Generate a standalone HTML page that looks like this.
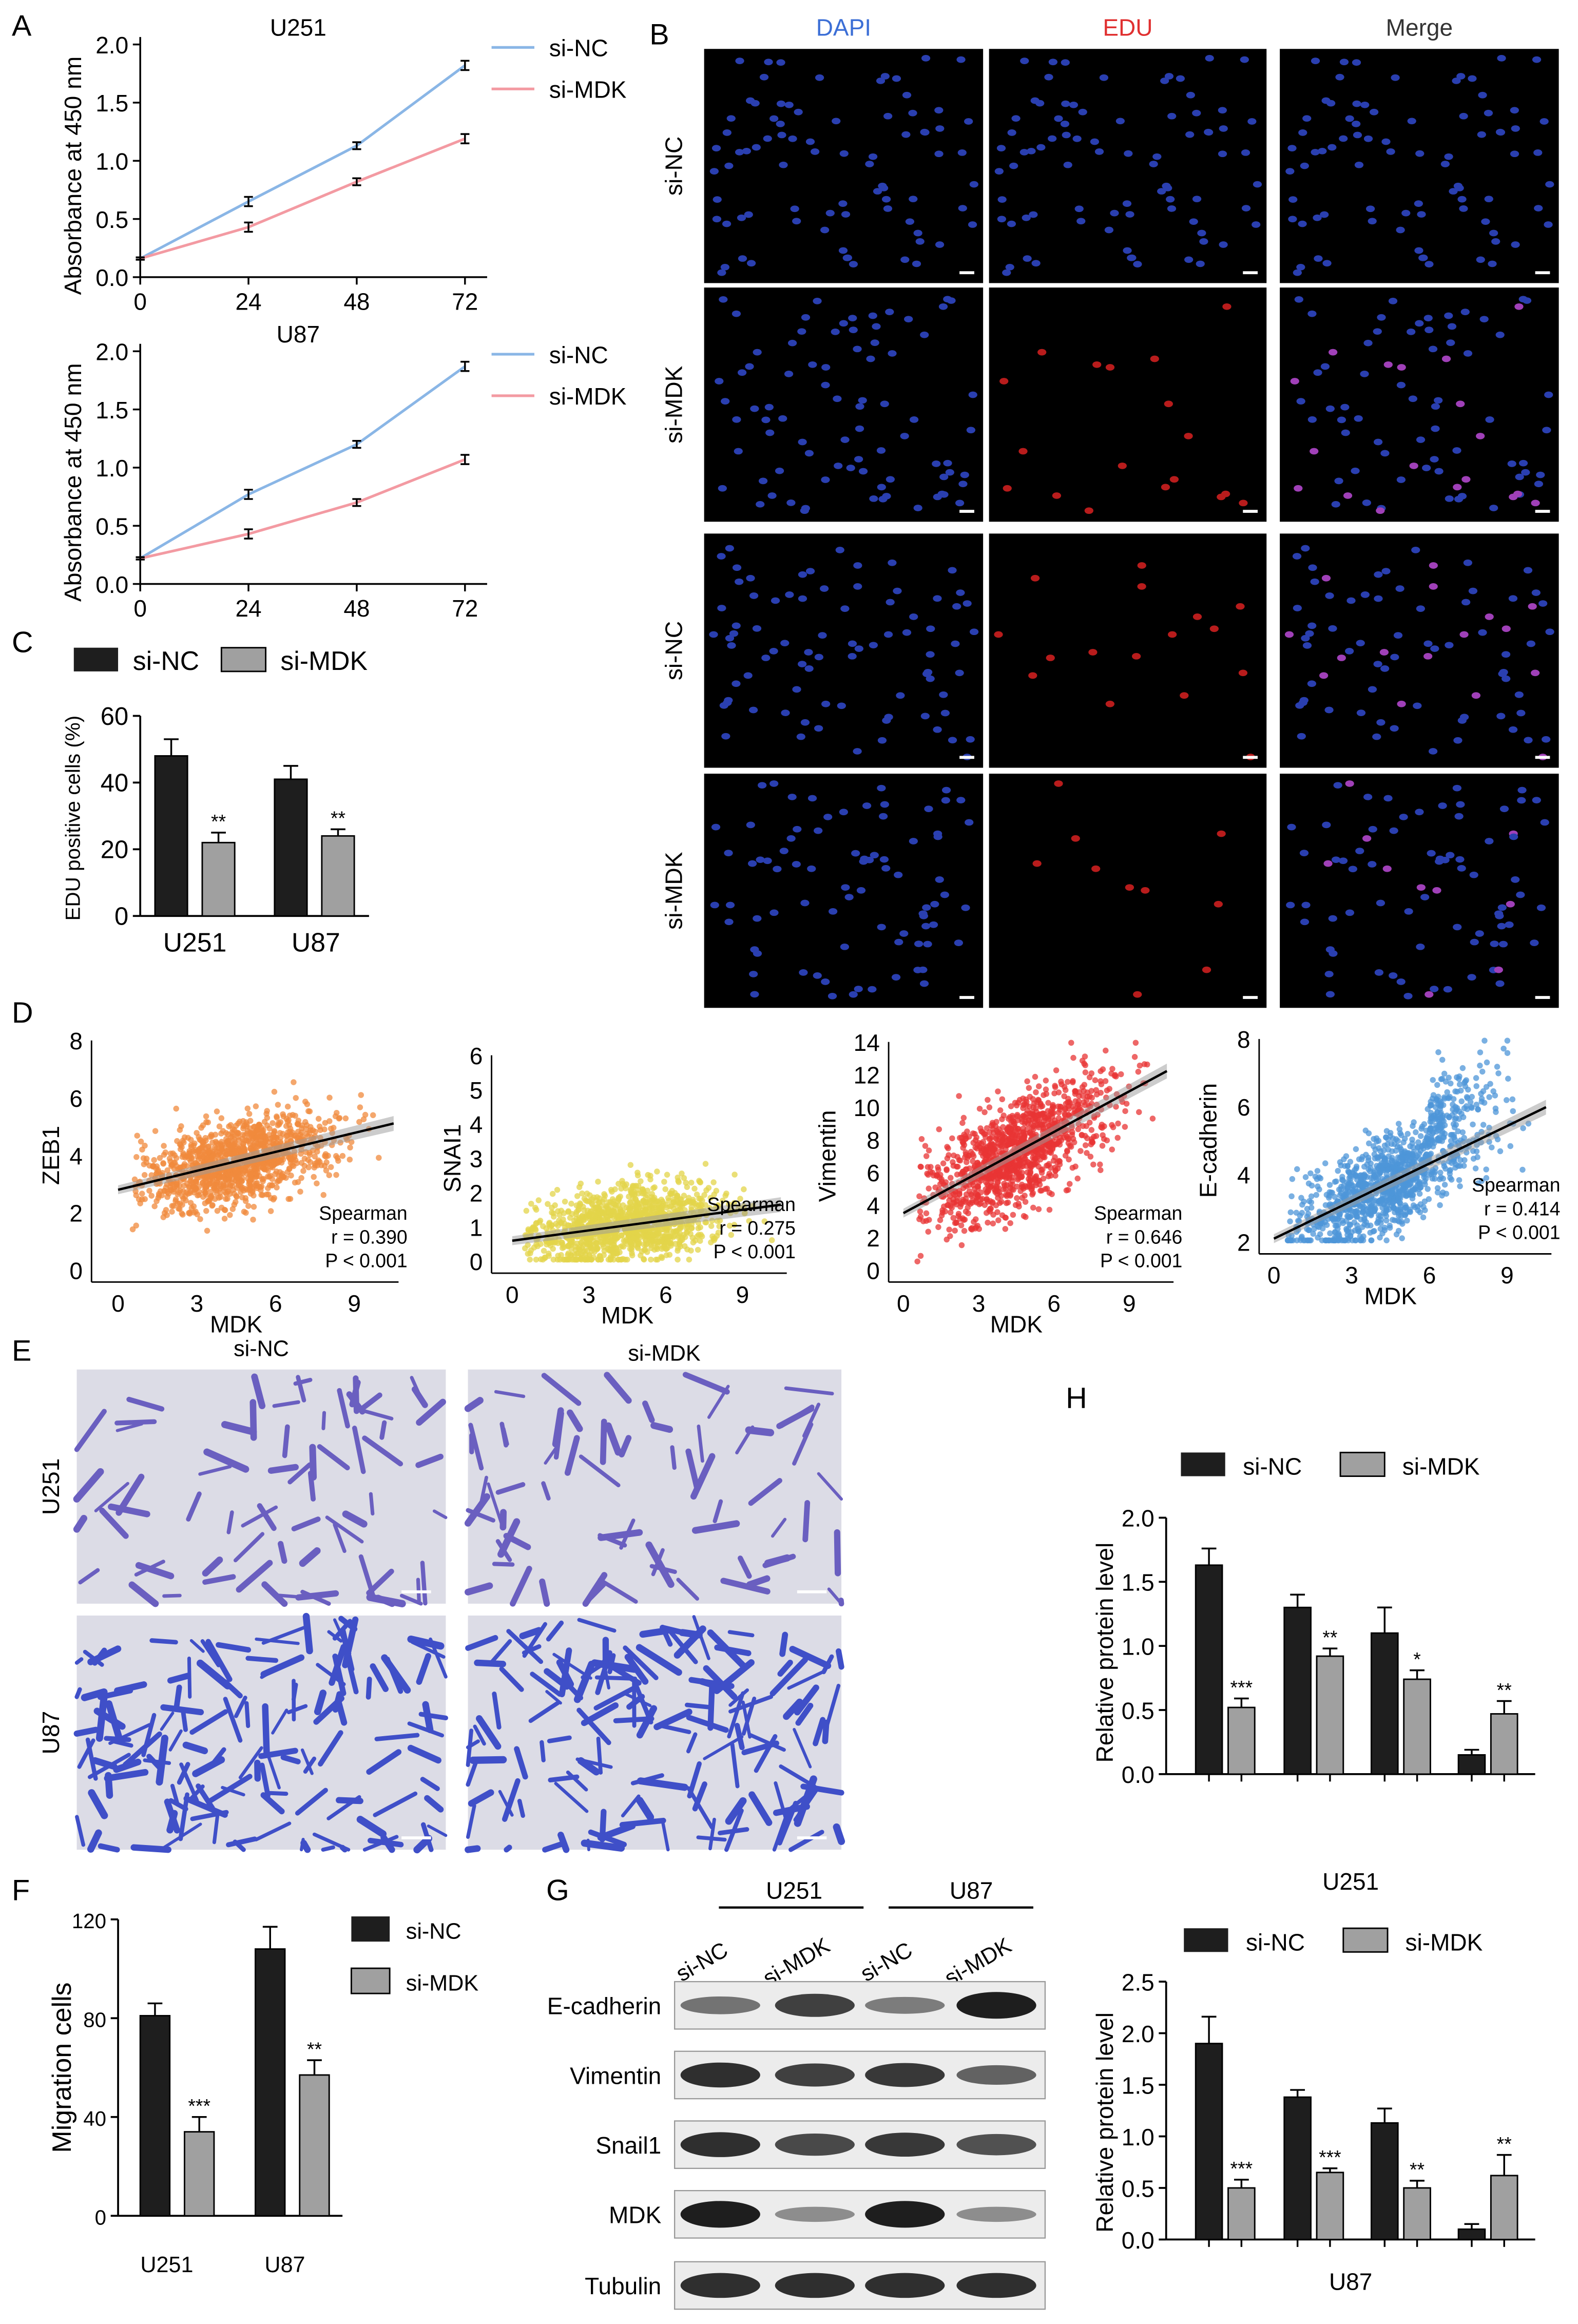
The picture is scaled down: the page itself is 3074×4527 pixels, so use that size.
<!DOCTYPE html>
<html><head><meta charset="utf-8">
<style>
html,body{margin:0;padding:0;background:#fff;}
svg{display:block;font-family:"Liberation Sans",Arial,sans-serif;}
</style></head>
<body>
<svg id="fig" width="3074" height="4527" viewBox="0 0 1069 1568" preserveAspectRatio="none" xmlns="http://www.w3.org/2000/svg">
<rect width="1069" height="1568" fill="#fff"/>
<g id="root"></g>
</svg>
<script>
// ---------- Data ----------
const timePoints=[0,24,48,72];
const u251NC=[0.16,0.65,1.13,1.82];
const u251MDK=[0.16,0.43,0.82,1.19];
const u87NC=[0.22,0.77,1.20,1.87];
const u87MDK=[0.22,0.43,0.70,1.07];
const cckErr=[0.01,0.04,0.03,0.04];
const eduCats=["U251","U87"];
const eduNC=[48,41];
const eduMDK=[22,24];
const eduErrNC=[5,4];
const eduErrMDK=[3,2];
const migCats=["U251","U87"];
const migNC=[81,108];
const migMDK=[34,57];
const migErrNC=[5,9];
const migErrMDK=[6,6];
const hTopNC=[1.63,1.30,1.10,0.15];
const hTopMDK=[0.52,0.92,0.74,0.47];
const hTopErrNC=[0.13,0.1,0.2,0.04];
const hTopErrMDK=[0.07,0.06,0.07,0.1];
const hTopStars=["***","**","*","**"];
const hBotNC=[1.90,1.38,1.13,0.10];
const hBotMDK=[0.50,0.65,0.50,0.62];
const hBotErrNC=[0.26,0.07,0.14,0.05];
const hBotErrMDK=[0.08,0.04,0.07,0.2];
const hBotStars=["***","***","**","**"];
const scatterGenes=["ZEB1","SNAI1","Vimentin","E-cadherin"];
const scatterR=["0.390","0.275","0.646","0.414"];
const fitStart=[2.8,0.6,3.5,2.1];
const fitEnd=[5.0,1.6,11.8,5.8];
const blotRows=["E-cadherin","Vimentin","Snail1","MDK","Tubulin"];
const blotIntensity=[[0.5,0.8,0.45,1.0],[0.9,0.8,0.85,0.6],[0.9,0.75,0.85,0.7],[1.0,0.35,1.0,0.35],[0.9,0.9,0.9,0.9]];

// ---------- helpers ----------
const NS="http://www.w3.org/2000/svg";
const root=document.getElementById('root');
function mk(tag,attrs,parent){const e=document.createElementNS(NS,tag);for(const k in attrs)e.setAttribute(k,attrs[k]);(parent||root).appendChild(e);return e;}
function txt(x,y,s,size,opts,parent){opts=opts||{};const e=mk('text',{x:x,y:y,'font-size':size,fill:opts.fill||'#000','text-anchor':opts.anchor||'start','font-weight':opts.bold?'bold':'normal'},parent);if(opts.rot)e.setAttribute('transform',`rotate(${opts.rot} ${x} ${y})`);e.textContent=s;return e;}
function line(x1,y1,x2,y2,stroke,w,parent){return mk('line',{x1,y1,x2,y2,stroke:stroke||'#000','stroke-width':w||1.2},parent);}
let seed=12345;function rnd(){seed=(seed*1103515245+12345)%2147483648;return seed/2147483648;}
function gauss(){let u=rnd()||1e-6,v=rnd();return Math.sqrt(-2*Math.log(u))*Math.cos(2*Math.PI*v);}

[["A",8,24],["B",440,30],["C",8,440],["D",8,690],["E",8,918],["F",8,1282],["G",370,1282],["H",722,950]].forEach(p=>{
 const t=txt(p[1],p[2],p[0],20);
 
});

// ---------- Panel A ----------
function lineChart(top,bottom,title,nc,mdk,name){
 const g=mk('g',{});
 
 const x0=95,x1=315;
 const xs=v=>x0+(v/72)*(x1-x0);
 const ys=v=>bottom-(v/2)*(bottom-top);
 line(x0,top-5,x0,bottom,'#000',1.2,g);line(x0,bottom,330,bottom,'#000',1.2,g);
 [0,0.5,1.0,1.5,2.0].forEach(v=>{line(x0-5,ys(v),x0,ys(v),'#000',1.2,g);txt(x0-8,ys(v)+6,v.toFixed(1),16,{anchor:'end'},g);});
 timePoints.forEach(v=>{line(xs(v),bottom,xs(v),bottom+5,'#000',1.2,g);txt(xs(v),bottom+22,String(v),16,{anchor:'middle'},g);});
 txt(55,(top+bottom)/2+10,'Absorbance at 450 nm',16,{anchor:'middle',rot:-90},g);
 txt(202,top-6,title,16,{anchor:'middle'},g);
 [[nc,'#8ab6e6'],[mdk,'#f39aa2']].forEach(s=>{
  const pts=s[0].map((v,i)=>xs(timePoints[i])+','+ys(v)).join(' ');
  mk('polyline',{points:pts,fill:'none',stroke:s[1],'stroke-width':1.8},g);
  s[0].forEach((v,i)=>{const x=xs(timePoints[i]),e=cckErr[i];line(x,ys(v-e),x,ys(v+e),'#000',1.2,g);line(x-3,ys(v-e),x+3,ys(v-e),'#000',1.2,g);line(x-3,ys(v+e),x+3,ys(v+e),'#000',1.2,g);});
 });
 line(333,top+2,362,top+2,'#8ab6e6',1.8,g);txt(372,top+8,'si-NC',16,{},g);
 line(333,top+30,362,top+30,'#f39aa2',1.8,g);txt(372,top+36,'si-MDK',16,{},g);
}
lineChart(30,187,'U251',u251NC,u251MDK,'cck8-u251-chart');
lineChart(237,394,'U87',u87NC,u87MDK,'cck8-u87-chart');

// ---------- Panel B ----------
(function(){
 const g=mk('g',{});
 const cols=[[477,666],[670,858],[867,1056]];const rows=[[33,191],[194,352],[360,518],[522,680]];
 [['DAPI','#3c6fd6'],['EDU','#e03030'],['Merge','#333']].forEach((h,i)=>txt((cols[i][0]+cols[i][1])/2,24,h[0],16,{anchor:'middle',fill:h[1]},g));
 ['si-NC','si-MDK','si-NC','si-MDK'].forEach((l,i)=>txt(462,(rows[i][0]+rows[i][1])/2,l,16,{anchor:'middle',rot:-90},g));
 rows.forEach((r,ri)=>{
  seed=1000+ri*77;const cells=[];for(let k=0;k<80;k++)cells.push([rnd(),rnd(),rnd()]);
  cols.forEach((c,ci)=>{
   mk('rect',{x:c[0],y:r[0],width:c[1]-c[0],height:r[1]-r[0],fill:'#000'},g);
   cells.forEach((p,k)=>{
    const x=c[0]+6+p[0]*(c[1]-c[0]-12),y=r[0]+6+p[1]*(r[1]-r[0]-12);
    let col=null;
    if(ci===0)col='#2a3fb0';
    else if(ci===1){if(ri===0)col='#2a3fb0';else if(p[2]<0.18)col='#b81c1c';}
    else col=(ri>0&&p[2]<0.18)?'#a040b8':'#2a3fb0';
    if(col)mk('ellipse',{cx:x,cy:y,rx:3,ry:2.2,fill:col},g);
   });
   mk('rect',{x:c[1]-16,y:r[1]-8,width:10,height:2,fill:'#fff'},g);
  });
 });
})();

// ---------- bar chart helper ----------
function barChart(o){
 const g=mk('g',{});
 const ys=v=>o.bottom-(v/o.max)*(o.bottom-o.top);
 line(o.x0,o.top,o.x0,o.bottom,'#000',1.3,g);line(o.x0,o.bottom,o.x1,o.bottom,'#000',1.3,g);
 o.ticks.forEach(v=>{line(o.x0-5,ys(v),o.x0,ys(v),'#000',1.3,g);txt(o.x0-8,ys(v)+6,o.fmt(v),o.fs||16,{anchor:'end'},g);});
 o.groups.forEach((gx,i)=>{
  [[o.nc[i],o.enc[i],gx,'#1e1e1e'],[o.mdk[i],o.emdk[i],gx+o.bw+o.gap,'#a0a0a0']].forEach((b,j)=>{
   const r=mk('rect',{x:b[2],y:ys(b[0]),width:o.bw,height:o.bottom-ys(b[0]),fill:b[3],stroke:'#000','stroke-width':1},g);
   
   const cx=b[2]+o.bw/2;line(cx,ys(b[0]),cx,ys(b[0]+b[1]),'#000',1.2,g);line(cx-5,ys(b[0]+b[1]),cx+5,ys(b[0]+b[1]),'#000',1.2,g);
   if(j&&o.stars)txt(cx,ys(b[0]+b[1])-3,o.stars[i],13,{anchor:'middle'},g);
   if(o.tickUnder){line(cx,o.bottom,cx,o.bottom+5,'#000',1.2,g);}
  });
 });
 return g;
}

// ---------- Panel C ----------
(function(){
 const g=barChart({name:'edu-positive-chart',x0:95,x1:250,top:483,bottom:618,max:60,ticks:[0,20,40,60],fmt:v=>String(v),groups:[105,186],bw:22,gap:10,nc:eduNC,mdk:eduMDK,enc:eduErrNC,emdk:eduErrMDK,stars:['**','**'],fs:17});
 eduCats.forEach((c,i)=>txt([132,214][i],642,c,18,{anchor:'middle'},g));
 txt(54,552,'EDU positive cells (%)',14,{anchor:'middle',rot:-90},g);
 mk('rect',{x:50,y:437,width:30,height:16,fill:'#1e1e1e'},g);txt(90,452,'si-NC',18,{},g);
 mk('rect',{x:150,y:437,width:30,height:16,fill:'#a0a0a0',stroke:'#000'},g);txt(190,452,'si-MDK',18,{},g);
})();

// ---------- Panel D ----------
(function(){
 const cfg=[
  {x0:80,x9:240,yb:857,yt:702,ymin:0,ymax:8,yt2:[0,2,4,6,8],col:'#f08a3c',ax:62,lx:40},
  {x0:347,x9:503,yb:851,yt:712,ymin:0,ymax:6,yt2:[0,1,2,3,4,5,6],col:'#e3d44a',ax:333,lx:312},
  {x0:612,x9:765,yb:857,yt:703,ymin:0,ymax:14,yt2:[0,2,4,6,8,10,12,14],col:'#e83434',ax:602,lx:566},
  {x0:863,x9:1021,yb:838,yt:701,ymin:2,ymax:8,yt2:[2,4,6,8],col:'#4d96d8',ax:853,lx:824}];
 cfg.forEach((c,i)=>{
  const g=mk('g',{});
  const xs=v=>c.x0+v/9*(c.x9-c.x0);const ys=v=>c.yb-(v-c.ymin)/(c.ymax-c.ymin)*(c.yb-c.yt);
  seed=500+i*91;
  const sd=[0.7,0.55,1.6,0.7][i];
  for(let k=0;k<1200;k++){
   let x=4.5+gauss()*1.8; if(x<0.5)x=0.5+rnd();if(x>10.3)x=10.3-rnd();
   let y=fitStart[i]+(fitEnd[i]-fitStart[i])*x/10+gauss()*sd;
   if(i===3&&x>6&&rnd()<0.5)y+=1.2;
   y=Math.max(c.ymin+0.05,Math.min(c.ymax-0.05,y));
   mk('circle',{cx:xs(x),cy:ys(y),r:2,fill:c.col,'fill-opacity':0.75},g);
  }
  mk('polygon',{points:`${xs(0)},${ys(fitStart[i])-3} ${xs(10.5)},${ys(fitStart[i]+(fitEnd[i]-fitStart[i])*1.05)-5} ${xs(10.5)},${ys(fitStart[i]+(fitEnd[i]-fitStart[i])*1.05)+5} ${xs(0)},${ys(fitStart[i])+3}`,fill:'#999','fill-opacity':0.5},g);
  const fl=line(xs(0),ys(fitStart[i]),xs(10.5),ys(fitStart[i]+(fitEnd[i]-fitStart[i])*1.05),'#000',1.6,g);
  
  line(c.ax,c.yt,c.ax,c.yb+8,'#000',1,g);line(c.ax,c.yb+8,c.x9+30,c.yb+8,'#000',1,g);
  c.yt2.forEach(v=>txt(c.ax-6,ys(v)+6,String(v),16,{anchor:'end'},g));
  [0,3,6,9].forEach(v=>txt(xs(v),c.yb+28,String(v),16,{anchor:'middle'},g));
  txt(xs(4.5),c.yb+42,'MDK',16,{anchor:'middle'},g);
  txt(c.lx,(c.yt+c.yb)/2,scatterGenes[i],16,{anchor:'middle',rot:-90},g);
  txt(c.x9+36,c.yb-34,'Spearman',13,{anchor:'end'},g);
  txt(c.x9+36,c.yb-18,'r = '+scatterR[i],13,{anchor:'end'},g);
  txt(c.x9+36,c.yb-2,'P < 0.001',13,{anchor:'end'},g);
 });
})();

// ---------- Panel E ----------
(function(){
 const g=mk('g',{});
 const boxes=[[52,924,250,158],[317,924,253,158],[52,1090,250,158],[317,1090,253,158]];
 txt(177,915,'si-NC',15,{anchor:'middle'},g);txt(450,918,'si-MDK',15,{anchor:'middle'},g);
 txt(40,1003,'U251',16,{anchor:'middle',rot:-90},g);txt(40,1169,'U87',16,{anchor:'middle',rot:-90},g);
 boxes.forEach((b,bi)=>{
  mk('rect',{x:b[0],y:b[1],width:b[2],height:b[3],fill:'#dcdce6'},g);
  seed=3000+bi*13;const n=bi<2?70:140;
  for(let k=0;k<n;k++){
   const x=b[0]+rnd()*b[2],y=b[1]+rnd()*b[3],a=rnd()*Math.PI,l=10+rnd()*22;
   const x2=Math.max(b[0],Math.min(b[0]+b[2],x+Math.cos(a)*l)),y2=Math.max(b[1],Math.min(b[1]+b[3],y+Math.sin(a)*l));
   line(x,y,x2,y2,bi<2?'#6a5fc0':'#3f4fc8',2+rnd()*3,g).setAttribute('stroke-linecap','round');
  }
  mk('rect',{x:b[0]+b[2]-30,y:b[1]+b[3]-9,width:20,height:2,fill:'#fff'},g);
 });
})();

// ---------- Panel F ----------
(function(){
 const g=barChart({name:'migration-chart',x0:80,x1:232,top:1295,bottom:1495,max:120,ticks:[0,40,80,120],fmt:v=>String(v),groups:[95,173],bw:20,gap:10,nc:migNC,mdk:migMDK,enc:migErrNC,emdk:migErrMDK,stars:['***','**'],fs:14});
 migCats.forEach((c,i)=>txt([113,193][i],1533,c,15,{anchor:'middle'},g));
 txt(48,1395,'Migration cells',18,{anchor:'middle',rot:-90},g);
 mk('rect',{x:238,y:1293,width:26,height:17,fill:'#1e1e1e'},g);txt(275,1308,'si-NC',15,{},g);
 mk('rect',{x:238,y:1328,width:26,height:17,fill:'#a0a0a0',stroke:'#000'},g);txt(275,1343,'si-MDK',15,{},g);
})();

// ---------- Panel G ----------
(function(){
 const g=mk('g',{});
 line(487,1287,585,1287,'#000',1.5,g);line(602,1287,700,1287,'#000',1.5,g);
 txt(538,1281,'U251',16,{anchor:'middle'},g);txt(658,1281,'U87',16,{anchor:'middle'},g);
 const lanes=[488,552,613,675];
 ['si-NC','si-MDK','si-NC','si-MDK'].forEach((l,i)=>txt(lanes[i]-10,1328,l,15,{anchor:'middle',rot:-30},g));
 const rowsY=[1337,1384,1431,1478,1526];
 blotRows.forEach((r,ri)=>{
  const y=rowsY[ri];
  mk('rect',{x:457,y:y,width:251,height:32,fill:'#ececec',stroke:'#999','stroke-width':0.8},g);
  txt(448,y+22,r,16,{anchor:'end'},g);
  blotIntensity[ri].forEach((v,li)=>{
   const shade=Math.round(200-170*v);
   mk('ellipse',{cx:lanes[li],cy:y+16,rx:27,ry:3+6*v,fill:`rgb(${shade},${shade},${shade})`},g);
  });
 });
})();

// ---------- Panel H ----------
(function(){
 const groups=[810,870,929,988];
 const g1=barChart({name:'protein-level-u251-chart',x0:790,x1:1040,top:1024,bottom:1197,max:2,ticks:[0,0.5,1,1.5,2],fmt:v=>v.toFixed(1),groups:groups,bw:18,gap:4,nc:hTopNC,mdk:hTopMDK,enc:hTopErrNC,emdk:hTopErrMDK,stars:hTopStars,tickUnder:true});
 txt(754,1115,'Relative protein level',16,{anchor:'middle',rot:-90},g1);
 mk('rect',{x:800,y:980,width:30,height:16,fill:'#1e1e1e'},g1);txt(842,995,'si-NC',16,{},g1);
 mk('rect',{x:908,y:980,width:30,height:16,fill:'#a0a0a0',stroke:'#000'},g1);txt(950,995,'si-MDK',16,{},g1);
 txt(915,1275,'U251',16,{anchor:'middle'},g1);
 const g2=barChart({name:'protein-level-u87-chart',x0:790,x1:1040,top:1337,bottom:1511,max:2.5,ticks:[0,0.5,1,1.5,2,2.5],fmt:v=>v.toFixed(1),groups:groups,bw:18,gap:4,nc:hBotNC,mdk:hBotMDK,enc:hBotErrNC,emdk:hBotErrMDK,stars:hBotStars,tickUnder:true});
 txt(754,1432,'Relative protein level',16,{anchor:'middle',rot:-90},g2);
 mk('rect',{x:802,y:1301,width:30,height:16,fill:'#1e1e1e'},g2);txt(844,1316,'si-NC',16,{},g2);
 mk('rect',{x:910,y:1301,width:30,height:16,fill:'#a0a0a0',stroke:'#000'},g2);txt(952,1316,'si-MDK',16,{},g2);
 txt(915,1545,'U87',16,{anchor:'middle'},g2);
})();
</script>
</body></html>
